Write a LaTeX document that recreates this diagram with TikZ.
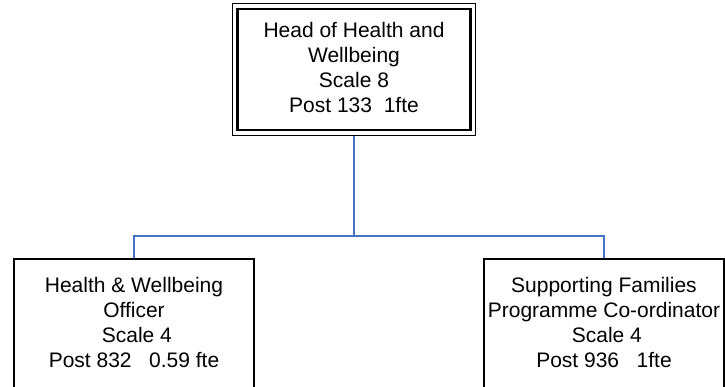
\documentclass[tikz,border=0pt]{standalone}
\usepackage{fontspec}
\setmainfont{Liberation Sans}
\usetikzlibrary{fit}
\definecolor{linkblue}{RGB}{68,114,196}
\begin{document}
\begin{tikzpicture}[x=1pt,y=-1pt,
  postbox/.style={draw=black, line width=1.8pt, inner sep=0pt,
    minimum width=240pt, minimum height=141pt},
  headbox/.style={draw=black, line width=2.2pt, inner sep=0pt,
    minimum width=233pt, minimum height=121pt},
  frame/.style={draw=black, line width=1.1pt, inner sep=4pt},
  label/.style={align=center, inner sep=0pt,
    font=\fontsize{21}{25.3}\selectfont},
  conn/.style={draw=linkblue, line width=1.8pt}]
  \useasboundingbox (0,0) rectangle (725,387);
  \clip (0,0) rectangle (725,387);

  % head of service, with its double frame
  \node[headbox] (head) at (354,69.5) {};
  \node[frame, fit=(head)] (headframe) {};
  \node[label] (headtext) at ([yshift=2pt]head.center)
    {Head of Health and\\Wellbeing\\Scale 8\\Post 133\ \ 1fte};

  % posts reporting to the head
  \node[postbox] (officer) at (134,329.5) {};
  \node[label] (officertext) at ([yshift=7pt]officer.center)
    {Health \& Wellbeing\\Officer\\\ Scale 4\\Post 832\ \ \ 0.59 fte};

  \node[postbox] (coord) at (604,329.5) {};
  \node[label] (coordtext) at ([yshift=7pt]coord.center)
    {Supporting Families\\Programme Co-ordinator\\\ Scale 4\\Post 936\ \ \ 1fte};

  % reporting lines
  \coordinate (bus) at (354,236);
  \draw[conn] (headframe.south) -- (bus);
  \draw[conn] (officer.north) |- (bus) -| (coord.north);
\end{tikzpicture}
\end{document}
